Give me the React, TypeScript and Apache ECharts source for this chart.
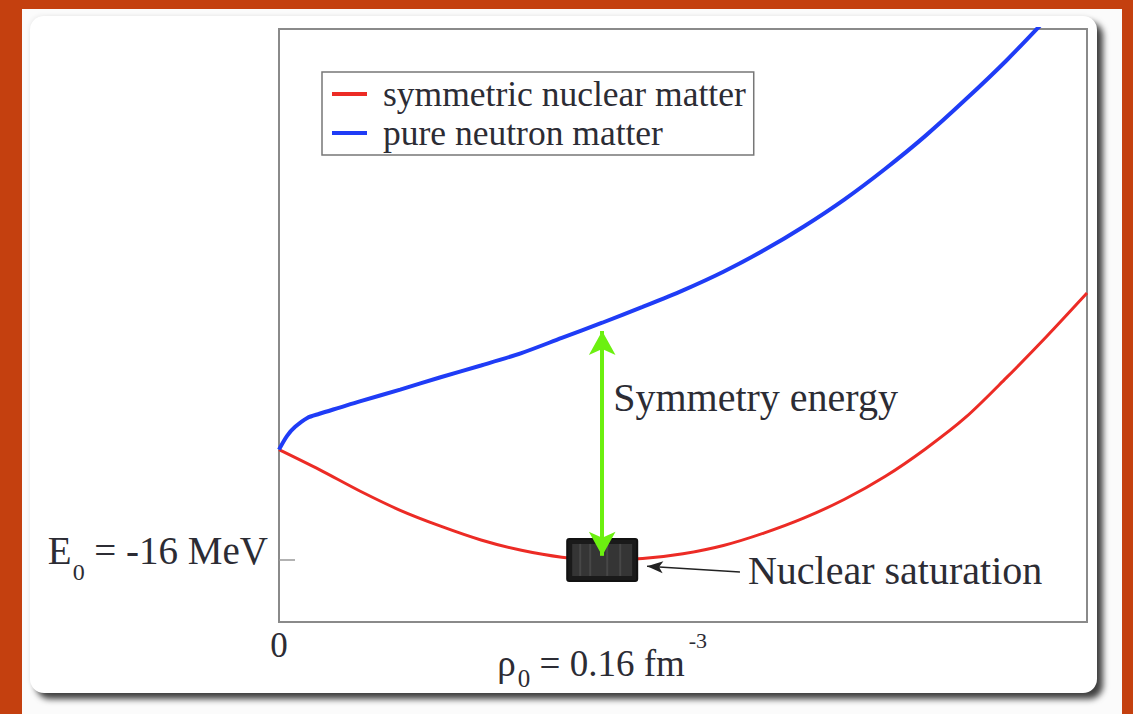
import React, { useEffect, useRef } from "react";
import * as echarts from "echarts";

// Energy per nucleon (MeV) versus density (fm^-3)
const rhoSNM = [0, 0.02, 0.04, 0.06, 0.08, 0.1, 0.12, 0.14, 0.16, 0.18, 0.2, 0.22, 0.24, 0.26, 0.28, 0.3, 0.32, 0.34, 0.36, 0.38, 0.4];
const eSNM = [0, -2.9, -6.0, -8.8, -11.1, -13.1, -14.6, -15.6, -16.0, -15.8, -15.1, -13.9, -12.1, -9.9, -7.2, -3.9, 0.1, 4.7, 10.4, 16.4, 22.7];

const rhoPNM = [0, 0.004, 0.008, 0.014, 0.02, 0.03, 0.04, 0.06, 0.08, 0.1, 0.12, 0.14, 0.16, 0.18, 0.2, 0.22, 0.24, 0.26, 0.28, 0.3, 0.32, 0.34, 0.36, 0.38];
const ePNM = [0, 2.0, 3.3, 4.6, 5.2, 6.1, 7.0, 8.7, 10.5, 12.2, 14.0, 16.2, 18.4, 20.7, 23.1, 25.8, 28.9, 32.4, 36.3, 40.7, 45.5, 50.8, 56.4, 62.5];

const seriesNames = ["symmetric nuclear matter", "pure neutron matter"];

// Saturation point
const RHO0 = 0.16;
const E0 = -16;

// Axis ranges and labelled ticks
const X_RANGE = [0, 0.4];
const Y_RANGE = [-25, 61];
const xLabelValues = [0, RHO0];
const xTickValues = [RHO0];
const yValues = [E0];

// Annotation anchors (density, energy)
const symArrow = [
  [RHO0, 17.2],
  [RHO0, -15.4],
];
const symLabel = [RHO0, 7.5];
const satArrow = [
  [0.2282, -17.75],
  [0.1822, -16.9],
];
const satLabel = [0.2282, -17.6];

const FONT = "'Liberation Serif', 'Times New Roman', serif";
const TEXT = "#2c2c34";
const ORANGE = "#c4400f";

const pairs = (xs: number[], ys: number[]) => xs.map((x, i) => [x, ys[i]]);

export default function App() {
  const ref = useRef<HTMLDivElement>(null);

  useEffect(() => {
    if (!ref.current) return;
    const chart = echarts.init(ref.current, null, { renderer: "svg" });

    chart.setOption({
      animation: false,
      grid: {
        left: 279,
        top: 29,
        width: 808,
        height: 593,
        show: true,
        borderColor: "#8a8a8a",
        borderWidth: 2,
        backgroundColor: "transparent",
      },
      legend: {
        data: seriesNames,
        orient: "vertical",
        left: 322,
        top: 72,
        padding: [4, 8, 4, 10],
        itemGap: 3,
        itemWidth: 35,
        itemHeight: 4,
        icon: "rect",
        borderColor: "#777",
        borderWidth: 1.5,
        borderRadius: 0,
        backgroundColor: "#fff",
        selectedMode: false,
        textStyle: {
          fontFamily: FONT,
          fontSize: 35.5,
          lineHeight: 36,
          color: TEXT,
          padding: [0, 0, 0, 11],
        },
      },
      xAxis: {
        type: "value",
        min: X_RANGE[0],
        max: X_RANGE[1],
        axisLine: { show: false },
        splitLine: { show: false },
        axisTick: {
          show: true,
          inside: true,
          length: 15,
          customValues: xTickValues,
          lineStyle: { color: "#999", width: 1.5 },
        },
        axisLabel: {
          customValues: xLabelValues,
          margin: 5,
          formatter: (v: number) =>
            v === 0 ? "{zero|0}" : `{rho|ρ}{rsub|0}{rho| = ${RHO0} fm}{rsup|-3}`,
          rich: {
            zero: { fontFamily: FONT, fontSize: 35, lineHeight: 36, color: TEXT },
            rho: { fontFamily: FONT, fontSize: 37, lineHeight: 72, color: TEXT },
            rsub: { fontFamily: FONT, fontSize: 25, lineHeight: 25, color: TEXT, padding: [30, 0, 0, 2] },
            rsup: { fontFamily: FONT, fontSize: 22, lineHeight: 22, color: TEXT, padding: [0, 0, 46, 4] },
          },
        },
      },
      yAxis: {
        type: "value",
        min: Y_RANGE[0],
        max: Y_RANGE[1],
        axisLine: { show: false },
        splitLine: { show: false },
        axisTick: {
          show: true,
          inside: true,
          length: 16,
          customValues: yValues,
          lineStyle: { color: "#999", width: 1.5 },
        },
        axisLabel: {
          customValues: yValues,
          margin: 11,
          formatter: (v: number) => `{e|E}{es|0}{e| = ${v} MeV}`,
          rich: {
            e: { fontFamily: FONT, fontSize: 39, lineHeight: 39, color: TEXT, padding: [0, 0, 18, 0] },
            es: { fontFamily: FONT, fontSize: 24, lineHeight: 24, color: TEXT, padding: [24, 0, 0, 1] },
          },
        },
      },
      series: [
        {
          name: seriesNames[0],
          type: "line",
          data: pairs(rhoSNM, eSNM),
          showSymbol: false,
          smooth: 0.3,
          color: "#ec2b25",
          lineStyle: { color: "#ec2b25", width: 3 },
          z: 2,
        },
        {
          name: seriesNames[1],
          type: "line",
          data: pairs(rhoPNM, ePNM),
          showSymbol: false,
          smooth: 0.3,
          color: "#1f3cf6",
          lineStyle: { color: "#1f3cf6", width: 4 },
          z: 2,
        },
        {
          // saturation marker box
          type: "custom",
          data: [[RHO0, E0]],
          z: 4,
          silent: true,
          renderItem: (_params: any, api: any) => {
            const [cx, cy] = api.coord([api.value(0), api.value(1)]);
            const w = 70;
            const h = 42;
            const stripeOffsets = [-22, -12, 5, 18];
            return {
              type: "group",
              children: [
                {
                  type: "rect",
                  shape: { x: cx - w / 2, y: cy - h / 2, width: w, height: h, r: 2 },
                  style: { fill: "#1a1a1a", stroke: "#111", lineWidth: 2 },
                },
                {
                  type: "rect",
                  shape: { x: cx - w / 2 + 5, y: cy - h / 2 + 5, width: w - 10, height: h - 10 },
                  style: { fill: "#353535" },
                },
                ...stripeOffsets.map((dx) => ({
                  type: "line",
                  shape: { x1: cx + dx, y1: cy - h / 2 + 5, x2: cx + dx, y2: cy + h / 2 - 5 },
                  style: { stroke: "#474747", lineWidth: 2 },
                })),
              ],
            };
          },
        },
        {
          // symmetry energy arrow and label
          type: "line",
          data: [],
          z: 5,
          silent: true,
          markLine: {
            silent: true,
            symbol: ["arrow", "arrow"],
            symbolSize: [20, 24],
            label: { show: false },
            lineStyle: { color: "#6cf010", width: 4, type: "solid" },
            data: [[{ coord: symArrow[0] }, { coord: symArrow[1] }]],
          },
          markPoint: {
            silent: true,
            symbol: "circle",
            symbolSize: 0,
            data: [
              {
                coord: symLabel,
                label: {
                  show: true,
                  position: "right",
                  distance: 11,
                  formatter: "Symmetry energy",
                  fontFamily: FONT,
                  fontSize: 40,
                  color: TEXT,
                },
              },
            ],
          },
        },
        {
          // saturation pointer and label
          type: "line",
          data: [],
          z: 5,
          silent: true,
          markLine: {
            silent: true,
            symbol: ["none", "arrow"],
            symbolSize: [9, 16],
            label: { show: false },
            lineStyle: { color: "#222", width: 1.5, type: "solid" },
            data: [[{ coord: satArrow[0] }, { coord: satArrow[1] }]],
          },
          markPoint: {
            silent: true,
            symbol: "circle",
            symbolSize: 0,
            data: [
              {
                coord: satLabel,
                label: {
                  show: true,
                  position: "right",
                  distance: 8,
                  formatter: "Nuclear saturation",
                  fontFamily: FONT,
                  fontSize: 40,
                  color: TEXT,
                },
              },
            ],
          },
        },
      ],
    });

    return () => chart.dispose();
  }, []);

  return (
    <div
      style={{
        position: "fixed",
        left: 0,
        top: 0,
        width: 1133,
        height: 714,
        background: ORANGE,
        overflow: "hidden",
      }}
    >
      <div
        style={{
          position: "absolute",
          left: 22,
          top: 9,
          width: 1100,
          height: 720,
          background: "#fbfbfb",
        }}
      />
      <div
        style={{
          position: "absolute",
          left: 30,
          top: 16,
          width: 1067,
          height: 677,
          background: "#fff",
          borderRadius: 14,
          boxShadow: "6px 6px 6px rgba(0,0,0,0.75), -1px -1px 4px rgba(0,0,0,0.06)",
        }}
      />
      <div ref={ref} style={{ position: "absolute", left: 0, top: 0, width: 1133, height: 714 }} />
    </div>
  );
}
